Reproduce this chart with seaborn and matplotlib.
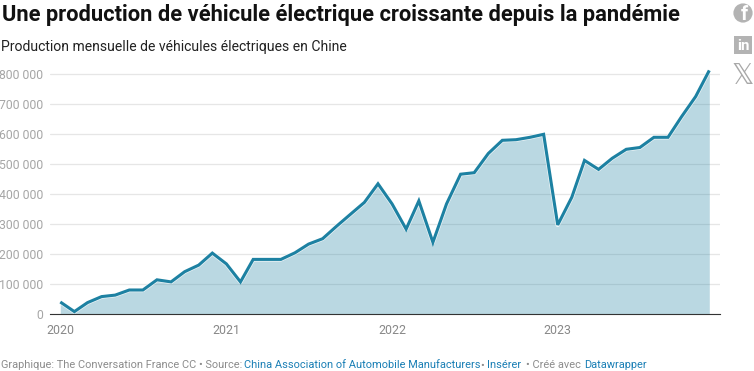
import pandas as pd
import numpy as np
import matplotlib.pyplot as plt
import matplotlib.dates as mdates
import matplotlib.patheffects as pe
from matplotlib.patches import Circle, Rectangle
import seaborn as sns

months = pd.date_range('2020-01-01', '2023-12-01', freq='MS')
production = [41, 9, 39, 59, 64, 81, 81, 115, 108, 142, 164, 204,
              168, 108, 183, 183, 183, 205, 234, 252, 294, 333, 373, 435,
              368, 284, 378, 240, 368, 467, 472, 536, 580, 582, 590, 600,
              298, 390, 513, 483, 520, 550, 556, 590, 590, 659, 726, 813]
production = [v * 1000 for v in production]
y_ticks = [0, 100000, 200000, 300000, 400000, 500000, 600000, 700000, 800000]
y_labels = ['0', '100 000', '200 000', '300 000', '400 000', '500 000', '600 000', '700 000', '800 000']
x_ticks = pd.to_datetime(['2020-01-01', '2021-01-01', '2022-01-01', '2023-01-01'])
x_labels = ['2020', '2021', '2022', '2023']

df = pd.DataFrame({'mois': months, 'production': production})

sns.set_style('white')
plt.rcParams['font.family'] = ['Roboto', 'DejaVu Sans']

W, H = 754, 371
LINE = '#1d81a2'
fig = plt.figure(figsize=(W / 100, H / 100), dpi=100)

# axes placed in pixels: x 50-720, baseline at y=314.3, 30 px per 100k
top = 68.3
ax = fig.add_axes([50 / W, 1 - 314.3 / H, 670 / W, (314.3 - top) / H])
ax.set_ylim(0, 820000)
px_day = 649 / 1430
ax.set_xlim(mdates.date2num(months[0]) - 10.3 / px_day, mdates.date2num(months[-1]) + 10.7 / px_day)

ax.fill_between(df['mois'], df['production'], 0, color=LINE, alpha=0.3, lw=0, zorder=3)
sns.lineplot(data=df, x='mois', y='production', color=LINE, linewidth=2.2, ax=ax, zorder=4,
             clip_on=False, solid_joinstyle='miter', solid_capstyle='butt',
             path_effects=[pe.Stroke(linewidth=3.2, foreground='white', alpha=0.75, joinstyle='round'), pe.Normal()])

ax.set_yticks(y_ticks, y_labels)
ax.set_xticks(x_ticks, x_labels)
ax.set_xlabel('')
ax.set_ylabel('')
ax.grid(axis='y', color='#e6e6e6', lw=0.9, zorder=1)
ax.set_axisbelow(True)
for s in ['top', 'right', 'left']:
    ax.spines[s].set_visible(False)
ax.spines['bottom'].set_color('#333333')
ax.spines['bottom'].set_linewidth(0.8)
ax.spines['bottom'].set_zorder(6)
ax.tick_params(axis='y', length=0, pad=4.6, labelsize=8.8, labelcolor='#a6a6a6')
ax.tick_params(axis='x', length=3.5, width=0.8, color='#333333', pad=3.2, labelsize=8.9, labelcolor='#888888')


def px(x, y):
    return x / W, 1 - y / H


fig.text(*px(2, 14.5), 'Une production de véhicule électrique croissante depuis la pandémie',
         fontsize=15.75, fontweight='bold', color='#111111', va='center')
fig.text(*px(1, 46.5), 'Production mensuelle de véhicules électriques en Chine',
         fontsize=10.08, color='#222222', va='center')

# footer pieces at their own x positions
GREY = '#8c8c8c'
BLUE = '#1a7fb5'
pieces = [(1, 'Graphique: The Conversation France CC • Source:', GREY),
          (244, 'China Association of Automobile Manufacturers', BLUE),
          (480, '•', GREY),
          (487, 'Insérer', BLUE),
          (526, '• Créé avec', GREY),
          (584, 'Datawrapper', BLUE)]
for x_pos, txt, col in pieces:
    fig.text(*px(x_pos, 365.5), txt, fontsize=7.9, color=col, va='center')

# share icons on the right
ICON = '#b3b3b3'
over = fig.add_axes([0, 0, 1, 1], facecolor='none')
over.set_xlim(0, W)
over.set_ylim(H, 0)
over.axis('off')
over.add_patch(Circle((743, 13), 9.6, color=ICON, lw=0))
over.text(744.5, 15, 'f', color='white', fontsize=14.5, fontweight='bold', ha='center', va='center')
over.add_patch(Rectangle((734, 36), 18, 18, color=ICON, lw=0))
over.text(743, 45.5, 'in', color='white', fontsize=11, fontweight='bold', ha='center', va='center')
over.text(743, 76, '\U0001D54F', color='#a8a8a8', fontsize=20, ha='center', va='center',
          family=['DejaVu Sans'])

plt.savefig('out.png', dpi=100)
plt.close()
